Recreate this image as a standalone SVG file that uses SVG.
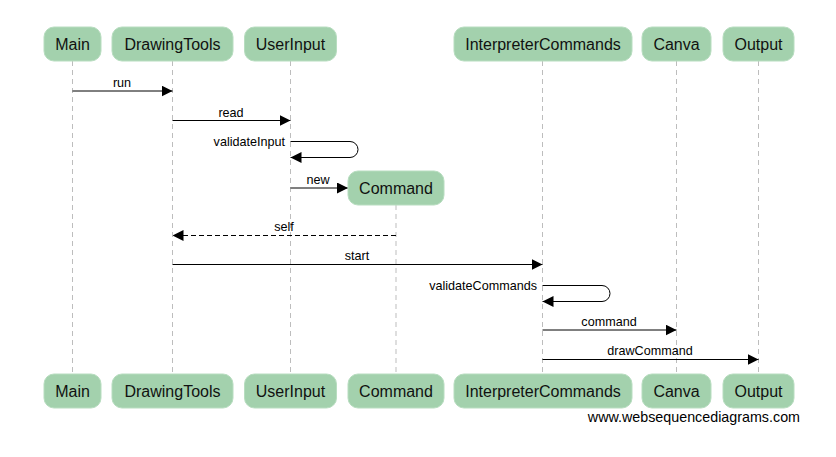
<svg xmlns="http://www.w3.org/2000/svg" width="836" height="457" viewBox="0 0 836 457">
<defs>
<style>
.box{fill:#a3d1ad;stroke:#b8ddc0;stroke-width:1}
.bt{font-family:"Liberation Sans",Arial,sans-serif;font-size:16px;fill:#111;text-anchor:middle}
.life{stroke:#bdbdbd;stroke-width:1;stroke-dasharray:5,4;fill:none}
.msg{stroke:#000;stroke-width:1;fill:none;marker-end:url(#ah)}
.dash{stroke-dasharray:5,3}
.ml{font-family:"Liberation Sans",Arial,sans-serif;font-size:12.6px;fill:#000;text-anchor:middle}
.mr{text-anchor:end}
.wm{font-family:"Liberation Sans",Arial,sans-serif;font-size:14.3px;fill:#000;text-anchor:end}
</style>
<marker id="ah" markerUnits="userSpaceOnUse" markerWidth="11" markerHeight="11" viewBox="0 0 10 10" refX="10" refY="5" orient="auto">
<path d="M0,0 L10,5 L0,10 z" fill="#000"/>
</marker>
</defs>
<rect width="836" height="457" fill="#fff"/>
<g id="lifelines">
<line class="life" x1="72.5" y1="61" x2="72.5" y2="374"/>
<line class="life" x1="172.5" y1="61" x2="172.5" y2="374"/>
<line class="life" x1="290.5" y1="61" x2="290.5" y2="374"/>
<line class="life" x1="396" y1="205" x2="396" y2="374"/>
<line class="life" x1="542.5" y1="61" x2="542.5" y2="374"/>
<line class="life" x1="676.5" y1="61" x2="676.5" y2="374"/>
<line class="life" x1="758.5" y1="61" x2="758.5" y2="374"/>
</g>
<g id="connectors">
<line class="msg" x1="72.5" y1="91" x2="172.5" y2="91"/>
<text class="ml" x="122" y="87">run</text>
<line class="msg" x1="172.5" y1="120.5" x2="290.5" y2="120.5"/>
<text class="ml" x="231" y="116.5">read</text>
<path class="msg" d="M290.5,141.5 H350 A8,8 0 0 1 350,157.5 H290.5"/>
<text class="ml mr" x="285" y="146">validateInput</text>
<line class="msg" x1="290.5" y1="188" x2="348" y2="188"/>
<text class="ml" x="318" y="184">new</text>
<line class="msg dash" x1="396" y1="235.5" x2="172.5" y2="235.5"/>
<text class="ml" x="284" y="231">self</text>
<line class="msg" x1="172.5" y1="264.5" x2="542.5" y2="264.5"/>
<text class="ml" x="357" y="260">start</text>
<path class="msg" d="M542.5,285.5 H602 A8,8 0 0 1 602,301.5 H542.5"/>
<text class="ml mr" x="537" y="290">validateCommands</text>
<line class="msg" x1="542.5" y1="330" x2="676.5" y2="330"/>
<text class="ml" x="609" y="326">command</text>
<line class="msg" x1="542.5" y1="359.5" x2="758.5" y2="359.5"/>
<text class="ml" x="650" y="355">drawCommand</text>
</g>
<g id="Main">
<rect class="box" x="44" y="27" width="57" height="34" rx="10"/>
<text class="bt" x="72.5" y="50">Main</text>
<rect class="box" x="44" y="374" width="57" height="34" rx="10"/>
<text class="bt" x="72.5" y="397">Main</text>
</g>
<g id="DrawingTools">
<rect class="box" x="112" y="27" width="121" height="34" rx="10"/>
<text class="bt" x="172.5" y="50">DrawingTools</text>
<rect class="box" x="112" y="374" width="121" height="34" rx="10"/>
<text class="bt" x="172.5" y="397">DrawingTools</text>
</g>
<g id="UserInput">
<rect class="box" x="244.5" y="27" width="92" height="34" rx="10"/>
<text class="bt" x="290.5" y="50">UserInput</text>
<rect class="box" x="244.5" y="374" width="92" height="34" rx="10"/>
<text class="bt" x="290.5" y="397">UserInput</text>
</g>
<g id="Command">
<rect class="box" x="348" y="171" width="96" height="34" rx="10"/>
<text class="bt" x="396" y="194">Command</text>
<rect class="box" x="348" y="374" width="96" height="34" rx="10"/>
<text class="bt" x="396" y="397">Command</text>
</g>
<g id="InterpreterCommands">
<rect class="box" x="454" y="27" width="178" height="34" rx="10"/>
<text class="bt" x="543" y="50">InterpreterCommands</text>
<rect class="box" x="454" y="374" width="178" height="34" rx="10"/>
<text class="bt" x="543" y="397">InterpreterCommands</text>
</g>
<g id="Canva">
<rect class="box" x="642" y="27" width="69" height="34" rx="10"/>
<text class="bt" x="676.5" y="50">Canva</text>
<rect class="box" x="642" y="374" width="69" height="34" rx="10"/>
<text class="bt" x="676.5" y="397">Canva</text>
</g>
<g id="Output">
<rect class="box" x="723" y="27" width="71" height="34" rx="10"/>
<text class="bt" x="758.5" y="50">Output</text>
<rect class="box" x="723" y="374" width="71" height="34" rx="10"/>
<text class="bt" x="758.5" y="397">Output</text>
</g>
<text class="wm" x="800" y="422">www.websequencediagrams.com</text>
</svg>
